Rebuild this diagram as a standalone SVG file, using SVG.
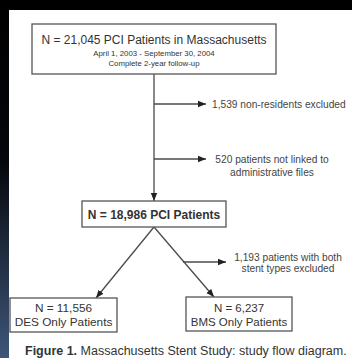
<svg xmlns="http://www.w3.org/2000/svg" width="352" height="358" viewBox="0 0 352 358">
<defs>
<linearGradient id="strip" x1="0" y1="0" x2="0" y2="1">
<stop offset="0" stop-color="#000"/>
<stop offset="0.45" stop-color="#05070c"/>
<stop offset="1" stop-color="#3e5679"/>
</linearGradient>
<marker id="ah" viewBox="0 0 10 10" refX="10" refY="5" markerWidth="8" markerHeight="8" markerUnits="userSpaceOnUse" orient="auto">
<path d="M0,1 L10,5 L0,9 z" fill="#222"/>
</marker>
<style>
.box{fill:#fff;stroke:#555;stroke-width:1.3}
.ln{fill:none;stroke:#4a4a4a;stroke-width:1.3}
.t{font-family:"Liberation Sans",Arial,sans-serif;fill:#333;text-anchor:middle}
.s{font-family:"Liberation Sans",Arial,sans-serif;fill:#444;font-size:10.2px}
</style>
</defs>
<rect x="0" y="0" width="352" height="358" fill="#000"/>
<rect x="0" y="0" width="9" height="358" fill="url(#strip)"/>
<rect x="9" y="10" width="343" height="348" fill="#fff"/>
<g id="connectors">
<line class="ln" x1="154" y1="74" x2="154" y2="201" marker-end="url(#ah)"/>
<line class="ln" x1="154" y1="104" x2="206" y2="104" marker-end="url(#ah)"/>
<line class="ln" x1="154" y1="159" x2="206" y2="159" marker-end="url(#ah)"/>
<line class="ln" x1="154" y1="227" x2="96" y2="298" marker-end="url(#ah)"/>
<line class="ln" x1="154" y1="227" x2="214" y2="297" marker-end="url(#ah)"/>
<line class="ln" x1="183" y1="262" x2="226" y2="262" marker-end="url(#ah)"/>
</g>
<g id="top">
<rect class="box" x="32" y="24" width="244" height="50"/>
<text class="t" x="154" y="44" font-size="12">N = 21,045 PCI Patients in Massachusetts</text>
<text class="t" x="154" y="55.5" font-size="7.8">April 1, 2003 - September 30, 2004</text>
<text class="t" x="154" y="65.5" font-size="7.8">Complete 2-year follow-up</text>
</g>
<g id="ex1"><text class="s" x="212" y="108">1,539 non-residents excluded</text></g>
<g id="ex2">
<text class="s" x="272" y="163" text-anchor="middle">520 patients not linked to</text>
<text class="s" x="272" y="176" text-anchor="middle">administrative files</text>
</g>
<g id="mid">
<rect class="box" x="82" y="201" width="144" height="26"/>
<text class="t" x="154" y="218.5" font-size="12" font-weight="bold" fill="#444">N = 18,986 PCI Patients</text>
</g>
<g id="ex3">
<text class="s" x="288" y="261" text-anchor="middle">1,193 patients with both</text>
<text class="s" x="288" y="271.5" text-anchor="middle">stent types excluded</text>
</g>
<g id="des">
<rect class="box" x="10" y="298" width="107" height="34"/>
<text class="t" x="63.5" y="312" font-size="11.8">N = 11,556</text>
<text class="t" x="63.5" y="326" font-size="11.8">DES Only Patients</text>
</g>
<g id="bms">
<rect class="box" x="186" y="297" width="106" height="34"/>
<text class="t" x="239" y="312" font-size="11.5">N = 6,237</text>
<text class="t" x="239" y="326" font-size="11.5">BMS Only Patients</text>
</g>
<text x="25" y="354.5" font-family="'Liberation Sans',Arial,sans-serif" font-size="12.5" fill="#333"><tspan font-weight="bold">Figure 1.</tspan> Massachusetts Stent Study: study flow diagram.</text>
</svg>
